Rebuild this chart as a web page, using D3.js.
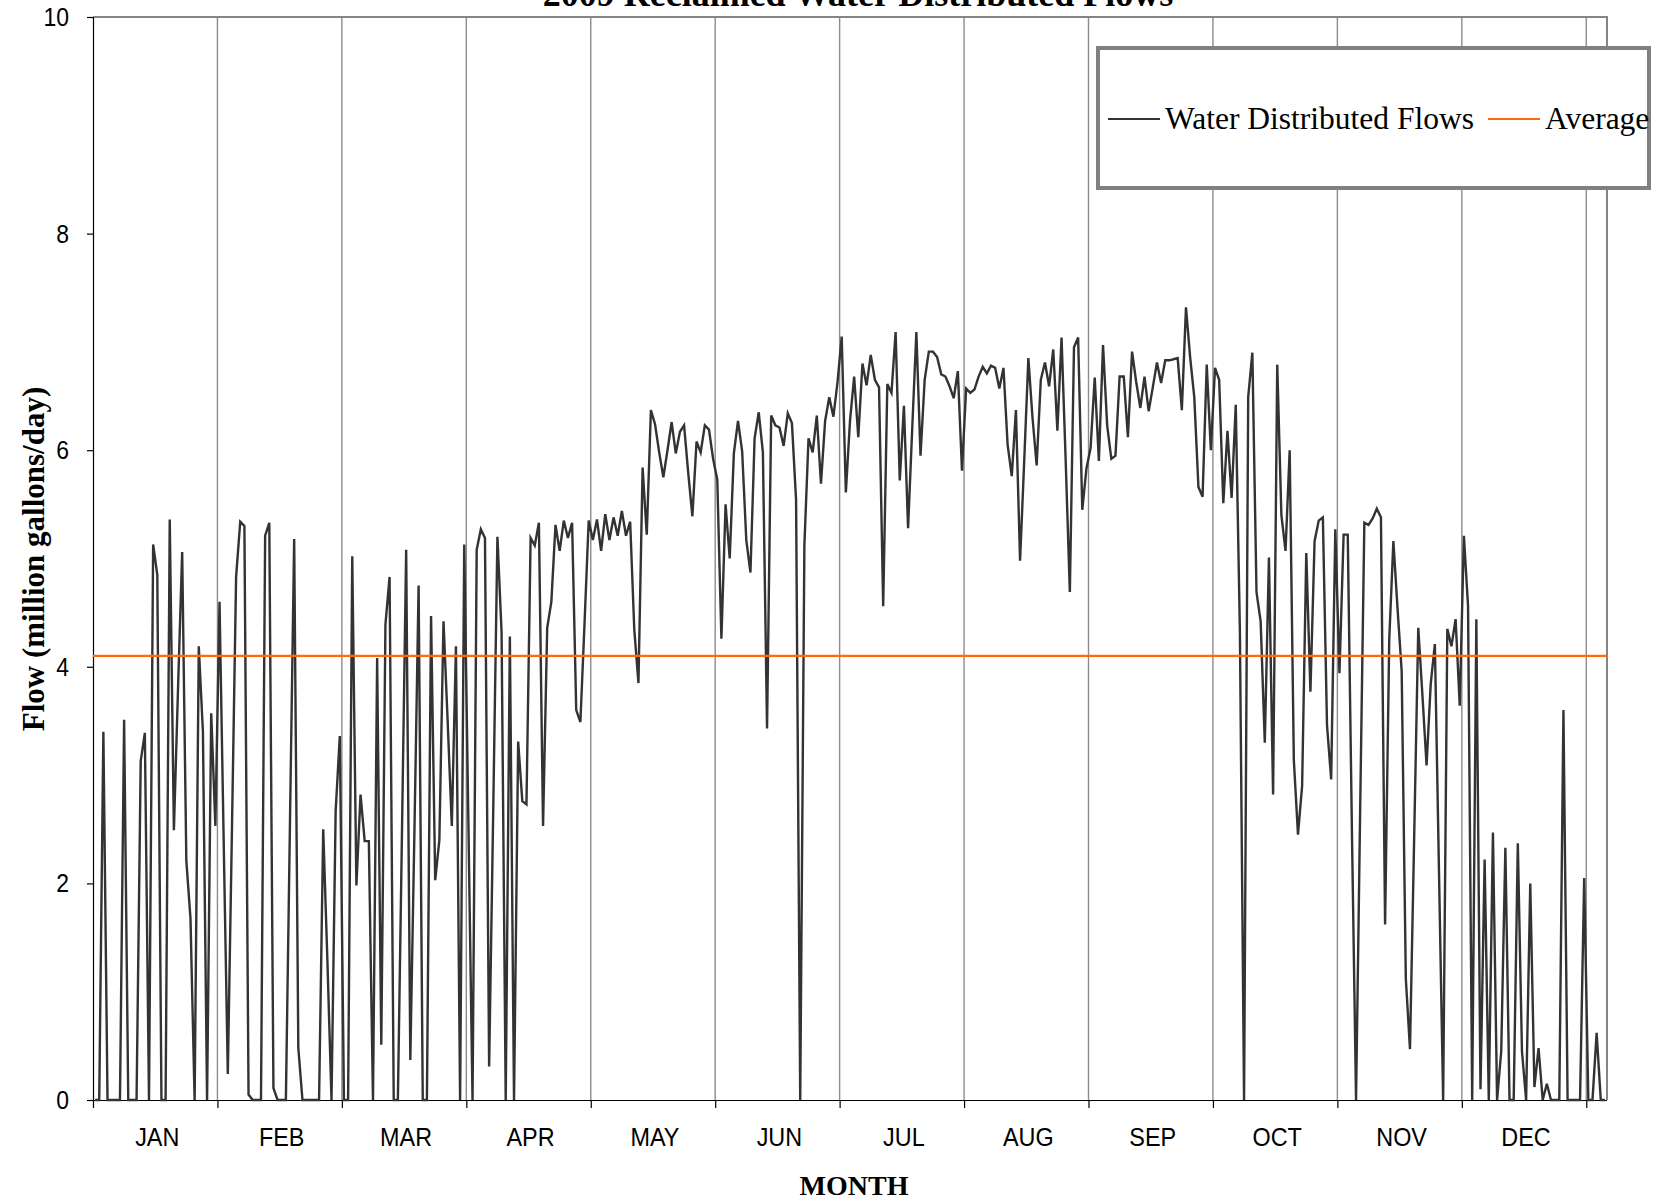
<!DOCTYPE html>
<html>
<head>
<meta charset="utf-8">
<script src="https://cdn.jsdelivr.net/npm/d3@7"></script>
<style>
  html, body { margin: 0; padding: 0; background: #ffffff; }
  svg { display: block; }
</style>
</head>
<body>
<svg id="chart" width="1663" height="1202"></svg>
<script>
// Month labels, one per 30-day band of the category axis
const monthLabels = ["JAN", "FEB", "MAR", "APR", "MAY", "JUN", "JUL", "AUG", "SEP", "OCT", "NOV", "DEC"];

// Y-axis tick values (million gallons/day)
const yTickValues = [0, 2, 4, 6, 8, 10];

// Annual average flow
const averageFlow = 4.1;

// Daily reclaimed water distributed flow, 2009 (million gallons/day)
const dailyFlow = [
  // days 1-30
  0, 0, 3.40, 0, 0, 0, 0, 3.51, 0, 0, 0, 3.13, 3.39, 0, 5.13, 4.85, 0, 0, 5.36, 2.49,
  3.80, 5.06, 2.21, 1.68, 0, 4.19, 3.40, 0, 3.57, 2.53,
  // days 31-60
  4.60, 2.40, 0.24, 2.50, 4.83, 5.34, 5.30, 0.05, 0, 0, 0, 5.21, 5.33, 0.11, 0, 0, 0, 2.60, 5.18, 0.48,
  0, 0, 0, 0, 0, 2.50, 1.30, 0, 2.67, 3.36,
  // days 61-90
  0, 0, 5.02, 1.98, 2.82, 2.39, 2.39, 0, 4.08, 0.51, 4.39, 4.83, 0, 0, 2.50, 5.08, 0.37, 2.50, 4.75, 0,
  0, 4.47, 2.03, 2.40, 4.42, 3.50, 2.53, 4.19, 0, 5.13,
  // days 91-120
  2.56, 0, 5.08, 5.27, 5.19, 0.31, 2.70, 5.20, 4.32, 0, 4.28, 0, 3.31, 2.76, 2.73, 5.19, 5.12, 5.33, 2.53, 4.36,
  4.60, 5.31, 5.07, 5.35, 5.19, 5.33, 3.60, 3.49, 4.40, 5.35,
  // days 121-150
  5.17, 5.36, 5.07, 5.41, 5.17, 5.38, 5.21, 5.44, 5.21, 5.34, 4.34, 3.85, 5.84, 5.22, 6.37, 6.24, 5.98, 5.75, 6.00, 6.26,
  5.97, 6.17, 6.23, 5.79, 5.39, 6.08, 5.98, 6.23, 6.19, 5.92,
  // days 151-180
  5.73, 4.26, 5.50, 5.00, 5.97, 6.27, 5.99, 5.17, 4.87, 6.11, 6.35, 5.98, 3.43, 6.32, 6.23, 6.21, 6.04, 6.34, 6.25, 5.54,
  0, 5.12, 6.11, 5.98, 6.32, 5.69, 6.27, 6.49, 6.31, 6.63,
  // days 181-210
  7.05, 5.61, 6.27, 6.68, 6.12, 6.80, 6.60, 6.88, 6.65, 6.58, 4.56, 6.61, 6.53, 7.09, 5.72, 6.41, 5.28, 6.20, 7.09, 5.95,
  6.65, 6.91, 6.91, 6.86, 6.70, 6.68, 6.59, 6.48, 6.73, 5.81,
  // days 211-240
  6.57, 6.53, 6.56, 6.68, 6.77, 6.71, 6.78, 6.76, 6.57, 6.76, 6.05, 5.76, 6.37, 4.98, 5.90, 6.85, 6.30, 5.86, 6.65, 6.81,
  6.59, 6.93, 6.18, 7.04, 5.90, 4.69, 6.95, 7.04, 5.45, 5.83,
  // days 241-270
  6.02, 6.67, 5.90, 6.97, 6.23, 5.92, 5.95, 6.68, 6.68, 6.12, 6.91, 6.63, 6.39, 6.68, 6.36, 6.58, 6.81, 6.62, 6.83, 6.83,
  6.84, 6.85, 6.37, 7.32, 6.86, 6.49, 5.66, 5.57, 6.79, 6.00,
  // days 271-300
  6.76, 6.65, 5.51, 6.18, 5.56, 6.42, 4.32, 0, 6.49, 6.90, 4.69, 4.42, 3.30, 5.01, 2.82, 6.79, 5.40, 5.07, 6.00, 3.14,
  2.45, 2.90, 5.05, 3.77, 5.16, 5.35, 5.38, 3.46, 2.96, 5.27,
  // days 301-330
  3.94, 5.22, 5.22, 2.50, 0, 2.70, 5.33, 5.31, 5.37, 5.46, 5.38, 1.62, 4.25, 5.16, 4.54, 3.96, 1.12, 0.47, 2.40, 4.36,
  3.74, 3.09, 3.84, 4.21, 2.10, 0, 4.35, 4.19, 4.44, 3.64,
  // days 331-365
  5.21, 4.56, 0, 4.44, 0.10, 2.22, 0, 2.47, 0, 0.45, 2.33, 0, 0, 2.37, 0.45, 0, 2.00, 0.12, 0.48, 0,
  0.15, 0, 0, 0, 3.60, 0, 0, 0, 0, 2.05, 0, 0, 0.62, 0, 0
];

const daysPerTick = 30;
const chartTitle = "2009 Reclaimed Water Distributed Flows";
const xAxisTitle = "MONTH";
const yAxisTitle = "Flow (million gallons/day)";
const seriesNames = ["Water Distributed Flows", "Average"];

// ---- layout ----
const plot = { left: 93, top: 17, right: 1607, bottom: 1100 };
const lineColor = "#333333";
const avgColor = "#ff6a0a";
const gridColor = "#8c8c8c";
const sansFont = "'Liberation Sans', Arial, sans-serif";
const serifFont = "'Liberation Serif', 'Times New Roman', serif";

const svg = d3.select("#chart");
svg.append("rect").attr("width", 1663).attr("height", 1202).attr("fill", "#ffffff");

const x = d3.scaleLinear().domain([0, dailyFlow.length]).range([plot.left, plot.right]);
const y = d3.scaleLinear().domain([0, 10]).range([plot.bottom, plot.top]);

const tickDays = d3.range(0, dailyFlow.length + 1, daysPerTick);

// vertical gridlines at each 30-day boundary
svg.append("g")
  .selectAll("line")
  .data(tickDays.slice(1))
  .join("line")
  .attr("x1", d => x(d)).attr("x2", d => x(d))
  .attr("y1", plot.top).attr("y2", plot.bottom)
  .attr("stroke", gridColor).attr("stroke-width", 1.4);

// plot frame: top and right edges
svg.append("path")
  .attr("d", `M${plot.left},${plot.top}H${plot.right}V${plot.bottom}`)
  .attr("fill", "none").attr("stroke", "#858585").attr("stroke-width", 2);

// y axis
const yAxis = d3.axisLeft(y).tickValues(yTickValues).tickSize(6).tickFormat("");
const gy = svg.append("g").attr("transform", `translate(${plot.left},0)`).call(yAxis);
gy.select(".domain").attr("stroke", "#000").attr("stroke-width", 1.2);
gy.selectAll(".tick line").attr("stroke", "#000").attr("stroke-width", 1.2);

// y tick labels, slightly condensed sans
svg.append("g")
  .selectAll("text")
  .data(yTickValues)
  .join("text")
  .attr("transform", d => `translate(${plot.left - 24},${y(d) + 9}) scale(0.9,1)`)
  .attr("text-anchor", "end")
  .attr("font-family", sansFont)
  .attr("font-size", 25.5)
  .text(d => d3.format("d")(d));

// x axis: ticks at the 30-day boundaries, labels centred in each band
const xAxis = d3.axisBottom(x).tickValues(tickDays).tickSize(8).tickFormat("");
const gx = svg.append("g").attr("transform", `translate(0,${plot.bottom})`).call(xAxis);
gx.select(".domain").attr("stroke", "#000").attr("stroke-width", 1.2).attr("d", `M${plot.left},0.5H${plot.right}`);
gx.selectAll(".tick line").attr("stroke", "#000").attr("stroke-width", 1.2);

svg.append("g")
  .selectAll("text")
  .data(monthLabels)
  .join("text")
  .attr("transform", (d, i) => `translate(${x(i * daysPerTick + daysPerTick / 2) + 2},1146) scale(0.9,1)`)
  .attr("text-anchor", "middle")
  .attr("font-family", sansFont)
  .attr("font-size", 26)
  .text(d => d);

// daily flow line
const flowLine = d3.line()
  .x((d, i) => x(i + 0.5))
  .y(d => y(d));

svg.append("path")
  .datum(dailyFlow)
  .attr("d", flowLine)
  .attr("fill", "none")
  .attr("stroke", lineColor)
  .attr("stroke-width", 2.4)
  .attr("stroke-linejoin", "miter");

// average line
svg.append("line")
  .attr("x1", x(0)).attr("x2", x(dailyFlow.length))
  .attr("y1", y(averageFlow)).attr("y2", y(averageFlow))
  .attr("stroke", avgColor).attr("stroke-width", 2.2);

// titles
svg.append("text")
  .attr("x", 858).attr("y", 6)
  .attr("text-anchor", "middle")
  .attr("font-family", serifFont)
  .attr("font-weight", "bold").attr("font-size", 36)
  .text(chartTitle);

svg.append("text")
  .attr("x", 854).attr("y", 1195)
  .attr("text-anchor", "middle")
  .attr("font-family", serifFont)
  .attr("font-weight", "bold").attr("font-size", 28)
  .text(xAxisTitle);

svg.append("text")
  .attr("transform", "translate(33,559) rotate(-90)")
  .attr("text-anchor", "middle")
  .attr("dominant-baseline", "central")
  .attr("font-family", serifFont)
  .attr("font-weight", "bold").attr("font-size", 31)
  .text(yAxisTitle);

// legend
const legend = svg.append("g");
legend.append("rect")
  .attr("x", 1098).attr("y", 48).attr("width", 551).attr("height", 140)
  .attr("fill", "#ffffff").attr("stroke", "#808080").attr("stroke-width", 4);

const legendItems = [
  { name: seriesNames[0], color: lineColor, x0: 1108 },
  { name: seriesNames[1], color: avgColor, x0: 1488 }
];
const legendY = 119;
legendItems.forEach(item => {
  legend.append("line")
    .attr("x1", item.x0).attr("x2", item.x0 + 52)
    .attr("y1", legendY).attr("y2", legendY)
    .attr("stroke", item.color).attr("stroke-width", 2.2);
  legend.append("text")
    .attr("x", item.x0 + 57).attr("y", legendY + 10)
    .attr("font-family", serifFont)
    .attr("font-size", 31.5)
    .text(item.name);
});
</script>
</body>
</html>
